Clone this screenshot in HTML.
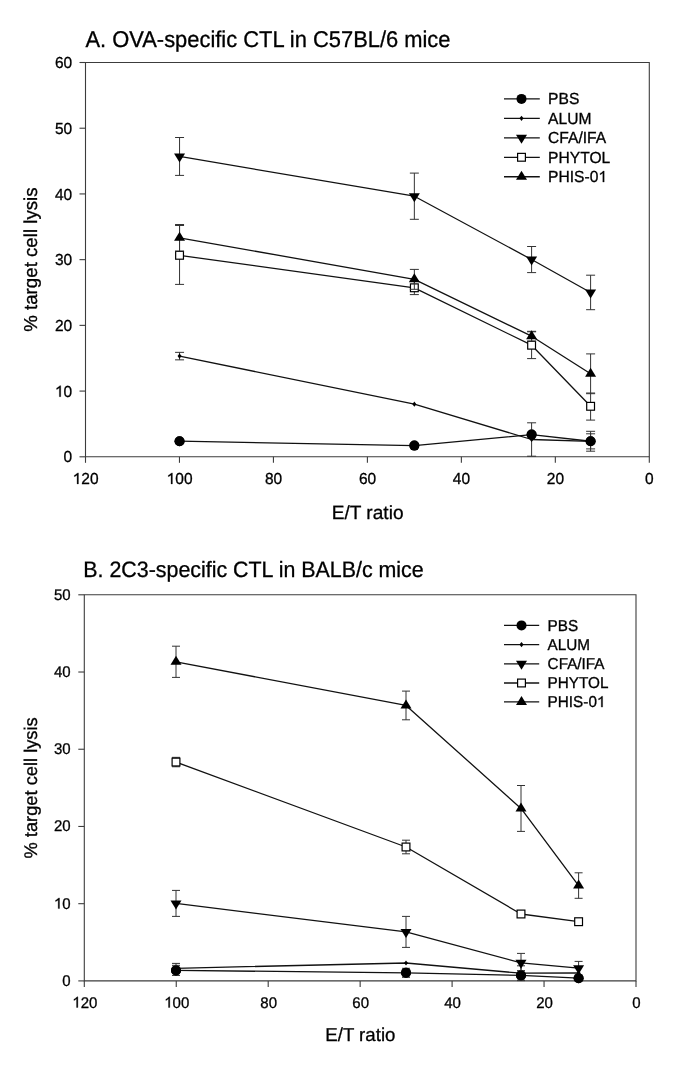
<!DOCTYPE html>
<html><head><meta charset="utf-8"><title>CTL lysis charts</title>
<style>html,body{margin:0;padding:0;background:#fff;width:685px;height:1091px;overflow:hidden}svg{display:block;will-change:transform}text{font-family:"Liberation Sans",sans-serif;text-rendering:geometricPrecision}</style>
</head><body>
<svg width="685" height="1091" viewBox="0 0 685 1091" font-family='"Liberation Sans", sans-serif' fill="#000">
<style>text{stroke:#000;stroke-width:0.3px}tspan.one{fill:none;stroke:none}</style>
<rect width="685" height="1091" fill="#fff"/>
<text transform="translate(85.5,47) scale(1,1.04)" font-size="21.9">A. OVA-specific CTL in C57BL/6 mice</text>
<path d="M85.5,62.5H649.3V456.8H85.5Z" fill="none" stroke="#3c3c3c" stroke-width="1.1"/>
<path d="M79.5,456.8H85.5" stroke="#3c3c3c" stroke-width="1.1"/>
<text transform="translate(72.2,462.4) scale(1,1.03)" font-size="15.5" text-anchor="end">0</text>
<path d="M79.5,391.08H85.5" stroke="#3c3c3c" stroke-width="1.1"/>
<text id="tx0" transform="translate(72.2,396.68) scale(1,1.03)" font-size="15.5" text-anchor="end"><tspan class="one">1</tspan>0</text>
<path d="M79.5,325.37H85.5" stroke="#3c3c3c" stroke-width="1.1"/>
<text transform="translate(72.2,330.97) scale(1,1.03)" font-size="15.5" text-anchor="end">20</text>
<path d="M79.5,259.65H85.5" stroke="#3c3c3c" stroke-width="1.1"/>
<text transform="translate(72.2,265.25) scale(1,1.03)" font-size="15.5" text-anchor="end">30</text>
<path d="M79.5,193.93H85.5" stroke="#3c3c3c" stroke-width="1.1"/>
<text transform="translate(72.2,199.53) scale(1,1.03)" font-size="15.5" text-anchor="end">40</text>
<path d="M79.5,128.22H85.5" stroke="#3c3c3c" stroke-width="1.1"/>
<text transform="translate(72.2,133.82) scale(1,1.03)" font-size="15.5" text-anchor="end">50</text>
<path d="M79.5,62.5H85.5" stroke="#3c3c3c" stroke-width="1.1"/>
<text transform="translate(72.2,68.1) scale(1,1.03)" font-size="15.5" text-anchor="end">60</text>
<path d="M649.3,456.8V462.8" stroke="#3c3c3c" stroke-width="1.1"/>
<text transform="translate(649.4,483.9) scale(1,1.03)" font-size="15.5" text-anchor="middle">0</text>
<path d="M555.33,456.8V462.8" stroke="#3c3c3c" stroke-width="1.1"/>
<text transform="translate(555.43,483.9) scale(1,1.03)" font-size="15.5" text-anchor="middle">20</text>
<path d="M461.37,456.8V462.8" stroke="#3c3c3c" stroke-width="1.1"/>
<text transform="translate(461.47,483.9) scale(1,1.03)" font-size="15.5" text-anchor="middle">40</text>
<path d="M367.4,456.8V462.8" stroke="#3c3c3c" stroke-width="1.1"/>
<text transform="translate(367.5,483.9) scale(1,1.03)" font-size="15.5" text-anchor="middle">60</text>
<path d="M273.43,456.8V462.8" stroke="#3c3c3c" stroke-width="1.1"/>
<text transform="translate(273.53,483.9) scale(1,1.03)" font-size="15.5" text-anchor="middle">80</text>
<path d="M179.47,456.8V462.8" stroke="#3c3c3c" stroke-width="1.1"/>
<text id="tx1" transform="translate(179.57,483.9) scale(1,1.03)" font-size="15.5" text-anchor="middle"><tspan class="one">1</tspan>00</text>
<path d="M85.5,456.8V462.8" stroke="#3c3c3c" stroke-width="1.1"/>
<text id="tx2" transform="translate(85.6,483.9) scale(1,1.03)" font-size="15.5" text-anchor="middle"><tspan class="one">1</tspan>20</text>
<text x="367.6" y="518.7" font-size="19.1" text-anchor="middle">E/T ratio</text>
<text transform="translate(36.8,259.6) rotate(-90)" font-size="18.7" text-anchor="middle">% target cell lysis</text>
<path d="M179.55,441.2 L414.35,445.6 L531.6,434.6 L590.6,441.25" fill="none" stroke="#111" stroke-width="1.3" stroke-linejoin="round"/>
<path d="M590.6,431.3V451.2M586.1,431.3H595.1M586.1,451.2H595.1" stroke="#333" stroke-width="1.0" fill="none"/>
<circle cx="179.55" cy="441.2" r="5.0" fill="#000"/>
<circle cx="414.35" cy="445.6" r="5.0" fill="#000"/>
<circle cx="531.6" cy="434.6" r="5.0" fill="#000"/>
<circle cx="590.6" cy="441.25" r="5.0" fill="#000"/>
<path d="M179.55,356.1 L414.35,404.2 L531.6,439.5 L590.6,441.35" fill="none" stroke="#111" stroke-width="1.3" stroke-linejoin="round"/>
<path d="M179.55,352.35V359.85M175.05,352.35H184.05M175.05,359.85H184.05" stroke="#333" stroke-width="1.0" fill="none"/>
<path d="M531.6,422.8V456.2M527.1,422.8H536.1M527.1,456.2H536.1" stroke="#333" stroke-width="1.0" fill="none"/>
<path d="M590.6,433.8V448.9M586.1,433.8H595.1M586.1,448.9H595.1" stroke="#333" stroke-width="1.0" fill="none"/>
<path d="M179.55,353.5L181.55,356.1L179.55,358.7L177.55,356.1Z" fill="#000"/>
<path d="M414.35,401.6L416.35,404.2L414.35,406.8L412.35,404.2Z" fill="#000"/>
<path d="M531.6,436.9L533.6,439.5L531.6,442.1L529.6,439.5Z" fill="#000"/>
<path d="M590.6,438.75L592.6,441.35L590.6,443.95L588.6,441.35Z" fill="#000"/>
<path d="M179.55,156.45 L414.35,196.2 L531.6,259.55 L590.6,292.45" fill="none" stroke="#111" stroke-width="1.3" stroke-linejoin="round"/>
<path d="M179.55,137.5V175.4M175.05,137.5H184.05M175.05,175.4H184.05" stroke="#333" stroke-width="1.0" fill="none"/>
<path d="M414.35,173.1V219.3M409.85,173.1H418.85M409.85,219.3H418.85" stroke="#333" stroke-width="1.0" fill="none"/>
<path d="M531.6,246.5V272.6M527.1,246.5H536.1M527.1,272.6H536.1" stroke="#333" stroke-width="1.0" fill="none"/>
<path d="M590.6,275.2V309.7M586.1,275.2H595.1M586.1,309.7H595.1" stroke="#333" stroke-width="1.0" fill="none"/>
<path d="M174.05,153.45H185.05L179.55,162.45Z" fill="#000"/>
<path d="M408.85,193.2H419.85L414.35,202.2Z" fill="#000"/>
<path d="M526.1,256.55H537.1L531.6,265.55Z" fill="#000"/>
<path d="M585.1,289.45H596.1L590.6,298.45Z" fill="#000"/>
<path d="M179.55,255.3 L414.35,287.8 L531.6,345.2 L590.6,406.3" fill="none" stroke="#111" stroke-width="1.3" stroke-linejoin="round"/>
<path d="M179.55,225.5V284.4M175.05,225.5H184.05M175.05,284.4H184.05" stroke="#333" stroke-width="1.0" fill="none"/>
<path d="M414.35,281V294.6M409.85,281H418.85M409.85,294.6H418.85" stroke="#333" stroke-width="1.0" fill="none"/>
<path d="M531.6,331.8V358.6M527.1,331.8H536.1M527.1,358.6H536.1" stroke="#333" stroke-width="1.0" fill="none"/>
<path d="M590.6,393V420.1M586.1,393H595.1M586.1,420.1H595.1" stroke="#333" stroke-width="1.0" fill="none"/>
<rect x="175.65" y="251.4" width="7.8" height="7.8" fill="#fff" stroke="#000" stroke-width="1.2"/>
<rect x="410.45" y="283.9" width="7.8" height="7.8" fill="#fff" stroke="#000" stroke-width="1.2"/>
<rect x="527.7" y="341.3" width="7.8" height="7.8" fill="#fff" stroke="#000" stroke-width="1.2"/>
<rect x="586.7" y="402.4" width="7.8" height="7.8" fill="#fff" stroke="#000" stroke-width="1.2"/>
<path d="M179.55,237.8 L414.35,279.35 L531.6,336.2 L590.6,373.8" fill="none" stroke="#111" stroke-width="1.3" stroke-linejoin="round"/>
<path d="M179.55,224.5V251.1M175.05,224.5H184.05M175.05,251.1H184.05" stroke="#333" stroke-width="1.0" fill="none"/>
<path d="M414.35,269.4V289.3M409.85,269.4H418.85M409.85,289.3H418.85" stroke="#333" stroke-width="1.0" fill="none"/>
<path d="M531.6,331.3V341.1M527.1,331.3H536.1M527.1,341.1H536.1" stroke="#333" stroke-width="1.0" fill="none"/>
<path d="M590.6,353.9V393.7M586.1,353.9H595.1M586.1,393.7H595.1" stroke="#333" stroke-width="1.0" fill="none"/>
<path d="M174.05,240.8H185.05L179.55,231.8Z" fill="#000"/>
<path d="M408.85,282.35H419.85L414.35,273.35Z" fill="#000"/>
<path d="M526.1,339.2H537.1L531.6,330.2Z" fill="#000"/>
<path d="M585.1,376.8H596.1L590.6,367.8Z" fill="#000"/>
<circle cx="179.55" cy="441.2" r="5.0" fill="#000"/>
<circle cx="414.35" cy="445.6" r="5.0" fill="#000"/>
<circle cx="531.6" cy="434.6" r="5.0" fill="#000"/>
<circle cx="590.6" cy="441.25" r="5.0" fill="#000"/>
<path d="M504,98.9H539.8" stroke="#111" stroke-width="1.3"/>
<circle cx="521.5" cy="98.9" r="5.0" fill="#000"/>
<text transform="translate(548.1,104.2) scale(1,1.03)" font-size="15.6">PBS</text>
<path d="M504,118.36H539.8" stroke="#111" stroke-width="1.3"/>
<path d="M521.5,115.76L523.5,118.36L521.5,120.96L519.5,118.36Z" fill="#000"/>
<text transform="translate(548.1,123.66) scale(1,1.03)" font-size="15.6">ALUM</text>
<path d="M504,137.82H539.8" stroke="#111" stroke-width="1.3"/>
<path d="M516,134.82H527L521.5,143.82Z" fill="#000"/>
<text transform="translate(548.1,143.12) scale(1,1.03)" font-size="15.6">CFA/IFA</text>
<path d="M504,157.28H539.8" stroke="#111" stroke-width="1.3"/>
<rect x="517.6" y="153.38" width="7.8" height="7.8" fill="#fff" stroke="#000" stroke-width="1.2"/>
<text transform="translate(548.1,162.58) scale(1,1.03)" font-size="15.6">PHYTOL</text>
<path d="M504,176.74H539.8" stroke="#111" stroke-width="1.3"/>
<path d="M516,179.74H527L521.5,170.74Z" fill="#000"/>
<text id="tx3" transform="translate(548.1,182.04) scale(1,1.03)" font-size="15.6">PHIS-0<tspan class="one">1</tspan></text>
<text transform="translate(83.3,577.1) scale(1,1.04)" font-size="21.4">B. 2C3-specific CTL in BALB/c mice</text>
<path d="M84.3,594.8H636V980.9H84.3Z" fill="none" stroke="#3c3c3c" stroke-width="1.1"/>
<path d="M78.3,980.9H84.3" stroke="#3c3c3c" stroke-width="1.1"/>
<text transform="translate(70.6,985.8) scale(1,1.03)" font-size="15.0" text-anchor="end">0</text>
<path d="M78.3,903.68H84.3" stroke="#3c3c3c" stroke-width="1.1"/>
<text id="tx4" transform="translate(70.6,908.58) scale(1,1.03)" font-size="15.0" text-anchor="end"><tspan class="one">1</tspan>0</text>
<path d="M78.3,826.46H84.3" stroke="#3c3c3c" stroke-width="1.1"/>
<text transform="translate(70.6,831.36) scale(1,1.03)" font-size="15.0" text-anchor="end">20</text>
<path d="M78.3,749.24H84.3" stroke="#3c3c3c" stroke-width="1.1"/>
<text transform="translate(70.6,754.14) scale(1,1.03)" font-size="15.0" text-anchor="end">30</text>
<path d="M78.3,672.02H84.3" stroke="#3c3c3c" stroke-width="1.1"/>
<text transform="translate(70.6,676.92) scale(1,1.03)" font-size="15.0" text-anchor="end">40</text>
<path d="M78.3,594.8H84.3" stroke="#3c3c3c" stroke-width="1.1"/>
<text transform="translate(70.6,599.7) scale(1,1.03)" font-size="15.0" text-anchor="end">50</text>
<path d="M636,980.9V986.9" stroke="#3c3c3c" stroke-width="1.1"/>
<text transform="translate(636.5,1007.5) scale(1,1.03)" font-size="15.0" text-anchor="middle">0</text>
<path d="M544.05,980.9V986.9" stroke="#3c3c3c" stroke-width="1.1"/>
<text transform="translate(544.55,1007.5) scale(1,1.03)" font-size="15.0" text-anchor="middle">20</text>
<path d="M452.1,980.9V986.9" stroke="#3c3c3c" stroke-width="1.1"/>
<text transform="translate(452.6,1007.5) scale(1,1.03)" font-size="15.0" text-anchor="middle">40</text>
<path d="M360.15,980.9V986.9" stroke="#3c3c3c" stroke-width="1.1"/>
<text transform="translate(360.65,1007.5) scale(1,1.03)" font-size="15.0" text-anchor="middle">60</text>
<path d="M268.2,980.9V986.9" stroke="#3c3c3c" stroke-width="1.1"/>
<text transform="translate(268.7,1007.5) scale(1,1.03)" font-size="15.0" text-anchor="middle">80</text>
<path d="M176.25,980.9V986.9" stroke="#3c3c3c" stroke-width="1.1"/>
<text id="tx5" transform="translate(176.75,1007.5) scale(1,1.03)" font-size="15.0" text-anchor="middle"><tspan class="one">1</tspan>00</text>
<path d="M84.3,980.9V986.9" stroke="#3c3c3c" stroke-width="1.1"/>
<text id="tx6" transform="translate(84.8,1007.5) scale(1,1.03)" font-size="15.0" text-anchor="middle"><tspan class="one">1</tspan>20</text>
<text x="360.35" y="1040.7" font-size="18.65" text-anchor="middle">E/T ratio</text>
<text transform="translate(37.3,787.9) rotate(-90)" font-size="18.3" text-anchor="middle">% target cell lysis</text>
<path d="M176,970.4 L406,972.8 L521,975.4 L578.6,978.2" fill="none" stroke="#111" stroke-width="1.3" stroke-linejoin="round"/>
<path d="M176,965.35V975.45M172,965.35H180M172,975.45H180" stroke="#333" stroke-width="1.0" fill="none"/>
<path d="M406,968.3V977.3M402,968.3H410M402,977.3H410" stroke="#333" stroke-width="1.0" fill="none"/>
<path d="M521,970.6V980.2M517,970.6H525M517,980.2H525" stroke="#333" stroke-width="1.0" fill="none"/>
<circle cx="176" cy="970.4" r="5.0" fill="#000"/>
<circle cx="406" cy="972.8" r="5.0" fill="#000"/>
<circle cx="521" cy="975.4" r="5.0" fill="#000"/>
<circle cx="578.6" cy="978.2" r="5.0" fill="#000"/>
<path d="M176,968.3 L406,963 L521,973.2 L578.6,973" fill="none" stroke="#111" stroke-width="1.3" stroke-linejoin="round"/>
<path d="M176,963.4V973.2M172,963.4H180M172,973.2H180" stroke="#333" stroke-width="1.0" fill="none"/>
<path d="M521,965.8V980.6M517,965.8H525M517,980.6H525" stroke="#333" stroke-width="1.0" fill="none"/>
<path d="M176,965.7L178,968.3L176,970.9L174,968.3Z" fill="#000"/>
<path d="M406,960.4L408,963L406,965.6L404,963Z" fill="#000"/>
<path d="M521,970.6L523,973.2L521,975.8L519,973.2Z" fill="#000"/>
<path d="M578.6,970.4L580.6,973L578.6,975.6L576.6,973Z" fill="#000"/>
<path d="M176,903.4 L406,931.9 L521,962.8 L578.6,968.2" fill="none" stroke="#111" stroke-width="1.3" stroke-linejoin="round"/>
<path d="M176,890.4V916.4M172,890.4H180M172,916.4H180" stroke="#333" stroke-width="1.0" fill="none"/>
<path d="M406,916.4V947.4M402,916.4H410M402,947.4H410" stroke="#333" stroke-width="1.0" fill="none"/>
<path d="M521,953.4V972.2M517,953.4H525M517,972.2H525" stroke="#333" stroke-width="1.0" fill="none"/>
<path d="M578.6,961.4V975M574.6,961.4H582.6M574.6,975H582.6" stroke="#333" stroke-width="1.0" fill="none"/>
<path d="M170.5,900.4H181.5L176,909.4Z" fill="#000"/>
<path d="M400.5,928.9H411.5L406,937.9Z" fill="#000"/>
<path d="M515.5,959.8H526.5L521,968.8Z" fill="#000"/>
<path d="M573.1,965.2H584.1L578.6,974.2Z" fill="#000"/>
<path d="M176,762.05 L406,847 L521,914 L578.6,921.7" fill="none" stroke="#111" stroke-width="1.3" stroke-linejoin="round"/>
<path d="M176,757.35V766.75M172,757.35H180M172,766.75H180" stroke="#333" stroke-width="1.0" fill="none"/>
<path d="M406,840.2V853.8M402,840.2H410M402,853.8H410" stroke="#333" stroke-width="1.0" fill="none"/>
<rect x="172.1" y="758.15" width="7.8" height="7.8" fill="#fff" stroke="#000" stroke-width="1.2"/>
<rect x="402.1" y="843.1" width="7.8" height="7.8" fill="#fff" stroke="#000" stroke-width="1.2"/>
<rect x="517.1" y="910.1" width="7.8" height="7.8" fill="#fff" stroke="#000" stroke-width="1.2"/>
<rect x="574.7" y="917.8" width="7.8" height="7.8" fill="#fff" stroke="#000" stroke-width="1.2"/>
<path d="M176,661.8 L406,705.45 L521,808.45 L578.6,885.55" fill="none" stroke="#111" stroke-width="1.3" stroke-linejoin="round"/>
<path d="M176,646.2V677.4M172,646.2H180M172,677.4H180" stroke="#333" stroke-width="1.0" fill="none"/>
<path d="M406,691.1V719.8M402,691.1H410M402,719.8H410" stroke="#333" stroke-width="1.0" fill="none"/>
<path d="M521,785.5V831.4M517,785.5H525M517,831.4H525" stroke="#333" stroke-width="1.0" fill="none"/>
<path d="M578.6,872.8V898.3M574.6,872.8H582.6M574.6,898.3H582.6" stroke="#333" stroke-width="1.0" fill="none"/>
<path d="M170.5,664.8H181.5L176,655.8Z" fill="#000"/>
<path d="M400.5,708.45H411.5L406,699.45Z" fill="#000"/>
<path d="M515.5,811.45H526.5L521,802.45Z" fill="#000"/>
<path d="M573.1,888.55H584.1L578.6,879.55Z" fill="#000"/>
<circle cx="176" cy="970.4" r="5.0" fill="#000"/>
<circle cx="406" cy="972.8" r="5.0" fill="#000"/>
<circle cx="521" cy="975.4" r="5.0" fill="#000"/>
<circle cx="578.6" cy="978.2" r="5.0" fill="#000"/>
<path d="M504,625.4H539.2" stroke="#111" stroke-width="1.3"/>
<circle cx="521.5" cy="625.4" r="5.0" fill="#000"/>
<text transform="translate(547.6,630.6) scale(1,1.03)" font-size="15.3">PBS</text>
<path d="M504,644.6H539.2" stroke="#111" stroke-width="1.3"/>
<path d="M521.5,642L523.5,644.6L521.5,647.2L519.5,644.6Z" fill="#000"/>
<text transform="translate(547.6,649.8) scale(1,1.03)" font-size="15.3">ALUM</text>
<path d="M504,663.8H539.2" stroke="#111" stroke-width="1.3"/>
<path d="M516,660.8H527L521.5,669.8Z" fill="#000"/>
<text transform="translate(547.6,669) scale(1,1.03)" font-size="15.3">CFA/IFA</text>
<path d="M504,683H539.2" stroke="#111" stroke-width="1.3"/>
<rect x="517.6" y="679.1" width="7.8" height="7.8" fill="#fff" stroke="#000" stroke-width="1.2"/>
<text transform="translate(547.6,688.2) scale(1,1.03)" font-size="15.3">PHYTOL</text>
<path d="M504,701.9H539.2" stroke="#111" stroke-width="1.3"/>
<path d="M516,704.9H527L521.5,695.9Z" fill="#000"/>
<text id="tx7" transform="translate(547.6,707.1) scale(1,1.03)" font-size="15.3">PHIS-0<tspan class="one">1</tspan></text>
<path d="M60.72,396.68L59.36,396.68L59.36,387.74Q58.87,388.23 58.07,388.71Q57.27,389.19 56.64,389.43L56.64,388.08Q57.78,387.52 58.64,386.85Q59.49,386.16 59.85,385.7L60.72,385.7Z" fill="#000" stroke="#000" stroke-width="0.3"/>
<path d="M172.4,483.9L171.04,483.9L171.04,474.96Q170.55,475.44 169.75,475.93Q168.95,476.41 168.32,476.65L168.32,475.29Q169.46,474.74 170.31,474.06Q171.17,473.38 171.53,472.92L172.4,472.92Z" fill="#000" stroke="#000" stroke-width="0.3"/>
<path d="M78.44,483.9L77.07,483.9L77.07,474.96Q76.58,475.44 75.78,475.93Q74.99,476.41 74.35,476.65L74.35,475.29Q75.49,474.74 76.35,474.06Q77.2,473.38 77.56,472.92L78.44,472.92Z" fill="#000" stroke="#000" stroke-width="0.3"/>
<path d="M604.18,182.04L602.81,182.04L602.81,173.04Q602.31,173.53 601.51,174.01Q600.7,174.5 600.06,174.74L600.06,173.38Q601.21,172.82 602.08,172.14Q602.94,171.45 603.29,170.99L604.18,170.99Z" fill="#000" stroke="#000" stroke-width="0.3"/>
<path d="M59.5,908.58L58.18,908.58L58.18,899.93Q57.71,900.39 56.93,900.86Q56.16,901.33 55.55,901.56L55.55,900.25Q56.65,899.72 57.48,899.06Q58.31,898.4 58.65,897.95L59.5,897.95Z" fill="#000" stroke="#000" stroke-width="0.3"/>
<path d="M169.82,1007.5L168.5,1007.5L168.5,998.85Q168.03,999.31 167.26,999.78Q166.48,1000.25 165.87,1000.48L165.87,999.17Q166.97,998.64 167.8,997.98Q168.63,997.32 168.97,996.87L169.82,996.87Z" fill="#000" stroke="#000" stroke-width="0.3"/>
<path d="M77.87,1007.5L76.55,1007.5L76.55,998.85Q76.08,999.31 75.31,999.78Q74.53,1000.25 73.92,1000.48L73.92,999.17Q75.02,998.64 75.85,997.98Q76.68,997.32 77.02,996.87L77.87,996.87Z" fill="#000" stroke="#000" stroke-width="0.3"/>
<path d="M602.61,707.1L601.27,707.1L601.27,698.27Q600.78,698.75 599.99,699.23Q599.21,699.71 598.58,699.94L598.58,698.6Q599.71,698.06 600.55,697.39Q601.39,696.71 601.75,696.26L602.61,696.26Z" fill="#000" stroke="#000" stroke-width="0.3"/>
</svg>
</body></html>
